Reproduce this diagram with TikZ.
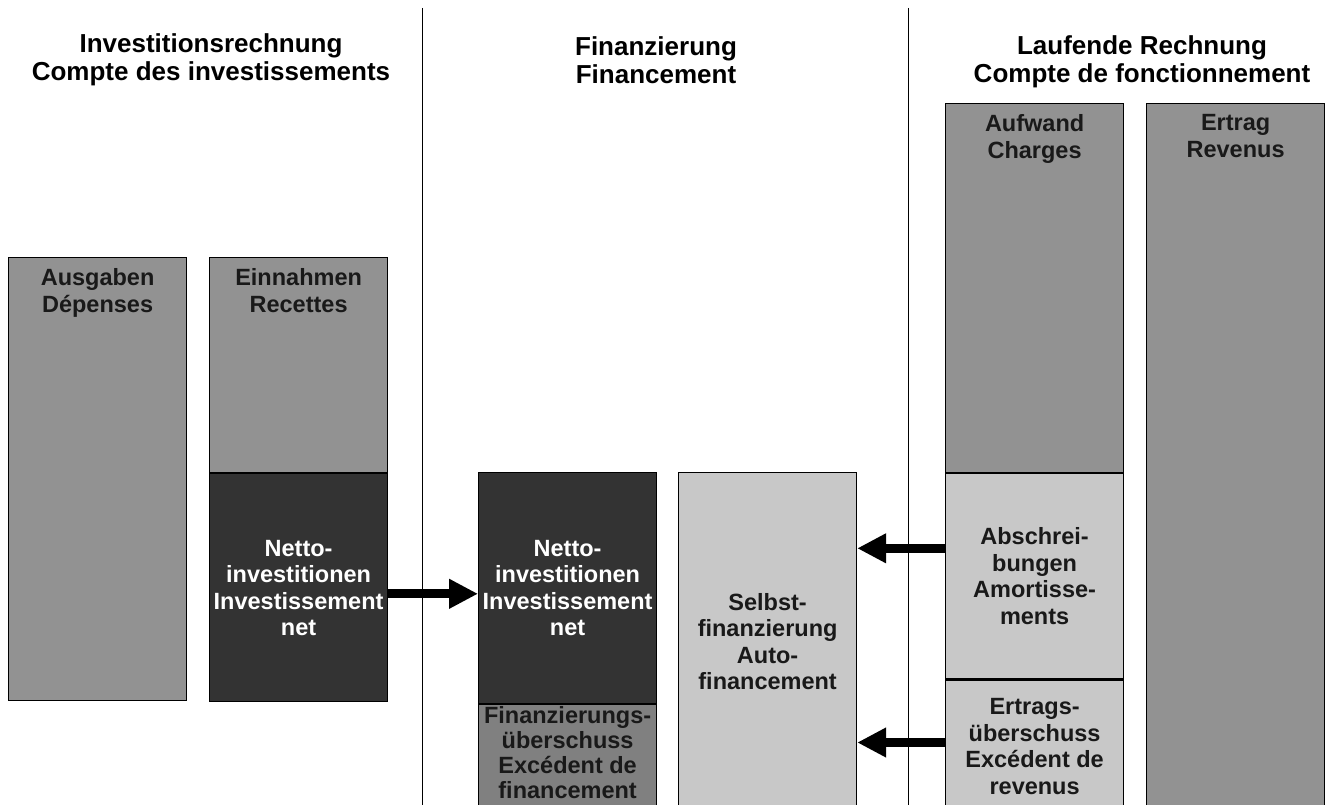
\documentclass[tikz,border=0pt]{standalone}
\usepackage{fontspec}
\setmainfont{Liberation Sans}
\usetikzlibrary{arrows.meta,positioning}
\definecolor{midgray}{HTML}{929292}
\definecolor{darkgray}{HTML}{333333}
\definecolor{lightgray}{HTML}{C8C8C8}
\definecolor{surplusgray}{HTML}{808080}
\newcommand\titlefont{\fontsize{26}{27.5}\selectfont\bfseries}
\newcommand\boxfont{\fontsize{23.5}{26.5}\selectfont\bfseries}
\tikzset{
  acct/.style={draw=black,line width=1.2pt,minimum width=178pt,inner sep=0pt,
    anchor=north west,align=center,font=\boxfont},
  upper/.style={acct,fill=midgray},
  netbox/.style={acct,fill=darkgray,text=white},
  selfbox/.style={acct,fill=lightgray,text=black!90},
  surplus/.style={acct,fill=surplusgray},
  toplabel/.style={anchor=north,yshift=-8pt,align=center,font=\boxfont,text=black!90},
  surplustext/.style={align=center,inner sep=0pt,text=black!90,
    font=\fontsize{23.5}{25}\selectfont\bfseries},
  heading/.style={align=center,font=\titlefont},
  flow/.style={line width=9pt,-{Triangle[length=29pt,width=28pt]}}
}
\begin{document}
\begin{tikzpicture}[x=1pt,y=-1pt]
  \useasboundingbox (0,0) rectangle (1327,805);
  \draw[line width=1pt] (422,8) -- (422,812);
  \draw[line width=1pt] (908,8) -- (908,812);
  % headings
  \node[heading] (invT) at (211,60) {Investitionsrechnung\\Compte des investissements};
  \node[heading] (finT) at (656,60) {Finanzierung\\Financement};
  \node[heading] (lrT) at (1142,62) {Laufende Rechnung\\Compte de fonctionnement};
  % investment account
  \node[upper,minimum height=443pt,label={[toplabel]north:Ausgaben\\Dépenses}] (ausg) at (8,257) {};
  \node[upper,minimum height=215pt,label={[toplabel]north:Einnahmen\\Recettes}] (einn) at (209,257) {};
  \node[netbox,minimum height=228pt] (netL) at (einn.south west) {Netto-\\investitionen\\Investissement\\net};
  % financing
  \node[netbox,minimum height=231pt] (netM) at (478,472) {Netto-\\investitionen\\Investissement\\net};
  \node[surplus,minimum height=107pt] (finUe) at (netM.south west) {};
  \node[surplustext] (finUeT) at ([yshift=6pt]finUe.center) {Finanzierungs-\\überschuss\\Excédent de\\financement};
  \node[selfbox,minimum height=338pt] (selbst) at (678,472) {Selbst-\\finanzierung\\Auto-\\financement};
  % current account
  \node[upper,minimum height=369pt,label={[toplabel]north:Aufwand\\Charges}] (aufw) at (945,103) {};
  \node[selfbox,minimum height=205pt] (abschr) at (aufw.south west) {Abschrei-\\bungen\\Amortisse-\\ments};
  \node[selfbox,minimum height=133pt] (ertrUe) at (abschr.south west) {Ertrags-\\überschuss\\Excédent de\\revenus};
  \node[upper,minimum height=707pt,label={[toplabel]north:Ertrag\\Revenus}] (ertr) at (1146,103) {};
  % flows
  \draw[flow] ([yshift=-6pt]netL.east) -- ([yshift=-6pt]netL.east -| netM.west);
  \draw[flow] ([yshift=28pt]abschr.west) -- ([yshift=28pt]abschr.west -| selbst.east);
  \draw[flow] ([yshift=4pt]ertrUe.west) -- ([yshift=4pt]ertrUe.west -| selbst.east);
\end{tikzpicture}
\end{document}
